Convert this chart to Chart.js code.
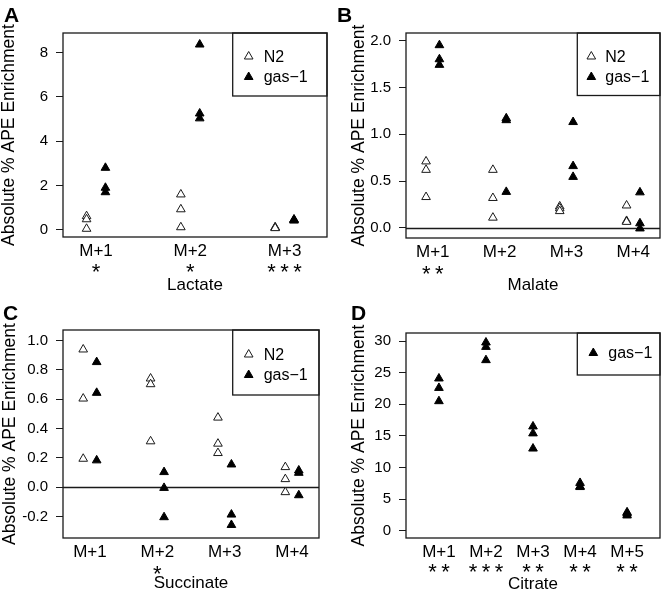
<!DOCTYPE html>
<html>
<head>
<meta charset="utf-8">
<script src="https://cdn.jsdelivr.net/npm/chart.js@4.4.0/dist/chart.umd.min.js"></script>
<style>
  body { margin: 0; background: #fff; }
  #wrap { position: relative; width: 666px; height: 593px; background: #fff; }
  canvas { position: absolute; }
</style>
</head>
<body>
<div id="wrap">
  <canvas id="chartA" width="333" height="297" style="left:0;top:0"></canvas>
  <canvas id="chartB" width="333" height="297" style="left:333px;top:0"></canvas>
  <canvas id="chartC" width="333" height="296" style="left:0;top:297px"></canvas>
  <canvas id="chartD" width="333" height="296" style="left:333px;top:297px"></canvas>
</div>
<script>
// data (3 replicates per isotopologue)
const lactateLabels = ["M+1", "M+2", "M+3"];
const lactateStars = ["*", "*", "***"];
const lactateN2 = [[0.62, 0.48, 0.05], [1.6, 0.93, 0.12], [0.12, 0.1, 0.08]];
const lactateGas1 = [[2.8, 1.9, 1.7], [8.36, 5.25, 5.03], [0.47, 0.45, 0.42]];
const lactateTicks = [0, 2, 4, 6, 8];

const malateLabels = ["M+1", "M+2", "M+3", "M+4"];
const malateStars = ["**", "", "", ""];
const malateN2 = [[0.71, 0.62, 0.33], [0.62, 0.32, 0.11], [0.23, 0.21, 0.18], [0.24, 0.075, 0.065]];
const malateGas1 = [[1.95, 1.8, 1.74], [1.17, 1.15, 0.385], [1.13, 0.66, 0.545], [0.38, 0.05, -0.005]];
const malateTicks = [0, 0.5, 1, 1.5, 2];

const succinateLabels = ["M+1", "M+2", "M+3", "M+4"];
const succinateStars = ["", "*", "", ""];
const succinateN2 = [[0.94, 0.605, 0.194], [0.742, 0.703, 0.313], [0.475, 0.297, 0.233], [0.137, 0.055, -0.034]];
const succinateGas1 = [[0.854, 0.644, 0.183], [0.103, -0.005, -0.205], [0.155, -0.187, -0.258], [0.114, 0.098, -0.055]];
const succinateTicks = [-0.2, 0, 0.2, 0.4, 0.6, 0.8, 1.0];

const citrateLabels = ["M+1", "M+2", "M+3", "M+4", "M+5"];
const citrateStars = ["**", "***", "**", "**", "**"];
const citrateGas1 = [[24.1, 22.6, 20.5], [29.8, 29.1, 27.0], [16.5, 15.4, 13.0], [7.55, 7.0, 6.9], [2.9, 2.7, 2.4]];
const citrateTicks = [0, 5, 10, 15, 20, 25, 30];

const yTitle = "Absolute % APE Enrichment";
const ink = "#1a1a1a";
const triSize = 5;
Chart.defaults.font.family = "'Liberation Sans', Arial, sans-serif";
Chart.defaults.color = ink;

function toPoints(values, offset) {
  return values.flatMap((reps, i) => reps.map(v => ({x: i + 1 + offset, y: v})));
}

function n2Set(values) {
  return {label: "N2", data: toPoints(values, -0.1), pointStyle: "triangle", pointRadius: triSize,
    pointBackgroundColor: "#fff", pointBorderColor: ink, pointBorderWidth: 1};
}
function gasSet(values, offset) {
  return {label: "gas\u22121", data: toPoints(values, offset), pointStyle: "triangle", pointRadius: triSize,
    pointBackgroundColor: "#000", pointBorderColor: "#000", pointBorderWidth: 1};
}

const panelPlugin = {
  id: "panel",
  beforeDatasetsDraw(chart, args, o) {
    const ctx = chart.ctx, a = chart.chartArea;
    ctx.save();
    ctx.strokeStyle = ink;
    ctx.lineWidth = 1.3;
    ctx.strokeRect(a.left, a.top, a.right - a.left, a.bottom - a.top);
    if (o.zeroLine) {
      const y = Math.round(chart.scales.y.getPixelForValue(0)) + 0.5;
      ctx.beginPath();
      ctx.moveTo(a.left, y);
      ctx.lineTo(a.right, y);
      ctx.stroke();
    }
    ctx.restore();
  },
  afterDraw(chart, args, o) {
    const ctx = chart.ctx, a = chart.chartArea;
    ctx.save();
    // panel letter
    ctx.fillStyle = "#000";
    ctx.font = "bold 21px 'Liberation Sans', Arial, sans-serif";
    ctx.textBaseline = "alphabetic";
    ctx.fillText(o.letter, o.letterX, o.letterY);
    // significance stars under the tick labels
    ctx.font = "22px 'Liberation Sans', Arial, sans-serif";
    ctx.textAlign = "center";
    o.stars.forEach((s, i) => {
      if (!s) return;
      const x = chart.scales.x.getPixelForValue(i + 1);
      ctx.fillText(s.split("").join("\u2009"), x, o.starY + 12.5);
    });
    // legend box
    const top = a.top;
    ctx.strokeStyle = ink;
    ctx.lineWidth = 1.3;
    ctx.strokeRect(o.legLeft, top, a.right - o.legLeft, o.legHeight);
    ctx.font = "16px 'Liberation Sans', Arial, sans-serif";
    ctx.textAlign = "left";
    chart.data.datasets.forEach((ds, i) => {
      const cy = top + o.legRow + i * 20.5;
      ctx.fillStyle = ds.pointBackgroundColor;
      ctx.strokeStyle = ds.pointBorderColor;
      ctx.lineWidth = 1;
      Chart.helpers.drawPoint(ctx, {pointStyle: "triangle", radius: triSize, borderWidth: 1, rotation: 0},
        o.legLeft + o.legTri, cy);
      ctx.fillStyle = "#000";
      ctx.fillText(ds.label, o.legLeft + o.legText, cy + 5);
    });
    ctx.restore();
  }
};

function makeChart(id, cfg) {
  new Chart(document.getElementById(id), {
    type: "scatter",
    data: {datasets: cfg.datasets},
    plugins: [panelPlugin],
    options: {
      responsive: false,
      animation: false,
      events: [],
      layout: {padding: {top: cfg.padTop, right: cfg.padRight, left: 0, bottom: 0}},
      plugins: {
        legend: {display: false},
        tooltip: {enabled: false},
        panel: cfg.panel
      },
      scales: {
        x: {
          type: "linear",
          bounds: "data",
          min: cfg.xMin,
          max: cfg.xMax,
          afterBuildTicks: s => { s.ticks = cfg.labels.map((l, i) => ({value: i + 1})); },
          afterFit: s => { s.height = cfg.xHeight; },
          border: {display: false},
          grid: {display: false, drawTicks: false},
          ticks: {
            autoSkip: false,
            maxRotation: 0,
            padding: 4,
            font: {size: 17, lineHeight: 1.2},
            color: "#000",
            callback: v => cfg.labels[Math.round(v) - 1]
          },
          title: {display: true, text: cfg.xTitle, color: "#000",
            font: {size: 17, lineHeight: 1}, padding: {top: 0, bottom: cfg.xTitlePad}}
        },
        y: {
          bounds: "data",
          min: cfg.yMin,
          max: cfg.yMax,
          afterBuildTicks: s => { s.ticks = cfg.yTicks.map(v => ({value: v})); },
          afterFit: s => { s.width = cfg.yWidth; },
          border: {display: false},
          grid: {drawOnChartArea: false, drawTicks: true, tickLength: 7, color: ink, lineWidth: 1},
          ticks: {
            autoSkip: false,
            padding: 8,
            font: {size: 15},
            color: "#000",
            callback: v => v.toFixed(cfg.yDec)
          },
          title: {display: true, text: yTitle, color: "#000",
            font: {size: 17.5, lineHeight: 1}, padding: {top: cfg.yTitlePad, bottom: 0}}
        }
      }
    }
  });
}

makeChart("chartA", {
  datasets: [n2Set(lactateN2), gasSet(lactateGas1, 0.1)],
  labels: lactateLabels, xTitle: "Lactate", yTicks: lactateTicks,
  xMin: 0.65, xMax: 3.45, yMin: -0.32, yMax: 8.88, yDec: 0,
  padTop: 33, padRight: 4, xHeight: 60, yWidth: 63, xTitlePad: 3.5, yTitlePad: 0.5,
  panel: {letter: "A", letterX: 4, letterY: 22, stars: lactateStars, starY: 266.7,
    zeroLine: false, legLeft: 232.7, legHeight: 63, legRow: 23.5, legTri: 16, legText: 31}
});

makeChart("chartB", {
  datasets: [n2Set(malateN2), gasSet(malateGas1, 0.1)],
  labels: malateLabels, xTitle: "Malate", yTicks: malateTicks,
  xMin: 0.6, xMax: 4.4, yMin: -0.107, yMax: 2.08, yDec: 1,
  padTop: 33, padRight: 2, xHeight: 59, yWidth: 73, xTitlePad: 3.5, yTitlePad: 17,
  panel: {letter: "B", letterX: 4, letterY: 22, stars: malateStars, starY: 268.3,
    zeroLine: true, legLeft: 244.3, legHeight: 62.5, legRow: 23.5, legTri: 14, legText: 28}
});

makeChart("chartC", {
  datasets: [n2Set(succinateN2), gasSet(succinateGas1, 0.1)],
  labels: succinateLabels, xTitle: "Succinate", yTicks: succinateTicks,
  xMin: 0.6, xMax: 4.4, yMin: -0.347, yMax: 1.073, yDec: 1,
  padTop: 33, padRight: 14, xHeight: 55, yWidth: 63, xTitlePad: 0.8, yTitlePad: 1,
  panel: {letter: "C", letterX: 3, letterY: 22.7, stars: succinateStars, starY: 271.7,
    zeroLine: true, legLeft: 232.7, legHeight: 65, legRow: 24.5, legTri: 16, legText: 31}
});

makeChart("chartD", {
  datasets: [gasSet(citrateGas1, 0)],
  labels: citrateLabels, xTitle: "Citrate", yTicks: citrateTicks,
  xMin: 0.3, xMax: 5.7, yMin: -1.17, yMax: 31.3, yDec: 0,
  padTop: 36, padRight: 3, xHeight: 55, yWidth: 73, xTitlePad: 0.2, yTitlePad: 17,
  panel: {letter: "D", letterX: 18, letterY: 23, stars: citrateStars, starY: 269.3,
    zeroLine: false, legLeft: 244.3, legHeight: 42, legRow: 20, legTri: 16, legText: 31}
});
</script>
</body>
</html>
